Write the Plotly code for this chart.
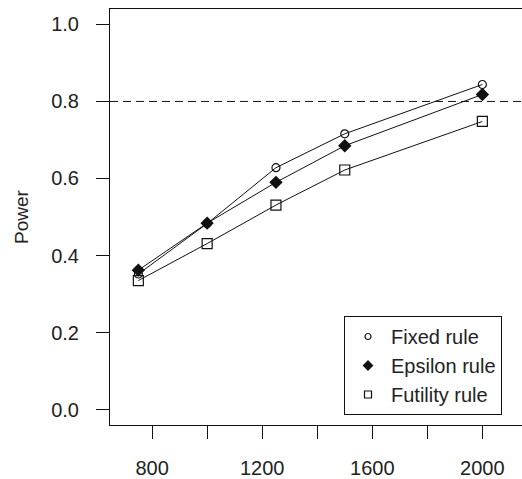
import plotly.graph_objects as go

# Sample sizes and simulated power for each stopping rule
sample_size = [750, 1000, 1250, 1500, 2000]
power_fixed = [0.352, 0.483, 0.628, 0.716, 0.844]
power_epsilon = [0.362, 0.484, 0.590, 0.685, 0.818]
power_futility = [0.335, 0.431, 0.531, 0.622, 0.748]
target_power = 0.8

x_ticks = [800, 1000, 1200, 1400, 1600, 1800, 2000]
x_tick_text = ["800", "", "1200", "", "1600", "", "2000"]
y_ticks = [0.0, 0.2, 0.4, 0.6, 0.8, 1.0]

font_family = "Liberation Sans, Arial, sans-serif"
ink = "#111111"
text_ink = "#222222"

series = [
    ("Fixed rule", power_fixed, "circle-open", 8, 6),
    ("Epsilon rule", power_epsilon, "diamond", 9, 7),
    ("Futility rule", power_futility, "square-open", 10, 7),
]

fig = go.Figure()

for name, values, symbol, size, _ in series:
    fig.add_trace(go.Scatter(
        x=sample_size, y=values, mode="lines+markers", name=name,
        showlegend=False,
        line=dict(color=ink, width=1),
        marker=dict(symbol=symbol, size=size, color=ink,
                    line=dict(color=ink, width=1.2)),
    ))

# legend entries show the symbol only, slightly smaller than on the curves
for name, _, symbol, _, lsize in series:
    fig.add_trace(go.Scatter(
        x=[None], y=[None], mode="markers", name=name,
        marker=dict(symbol=symbol, size=lsize, color=ink,
                    line=dict(color=ink, width=1.2)),
    ))

# reference line at the target power
fig.add_shape(type="line", xref="paper", x0=0, x1=1, yref="y",
              y0=target_power, y1=target_power,
              line=dict(color=ink, width=1, dash="8px,5px"))

fig.add_annotation(text="Power", xref="paper", yref="paper",
                   x=(21 - 110) / 412, y=0.5, textangle=-90,
                   showarrow=False, xanchor="center", yanchor="middle",
                   font=dict(family=font_family, size=19, color=text_ink))

axis_common = dict(
    showgrid=False, zeroline=False, showline=True, linecolor=ink,
    linewidth=1, ticks="outside", ticklen=13, tickwidth=1, tickcolor=ink,
    tickfont=dict(family=font_family, size=20, color=text_ink),
)

fig.update_xaxes(range=[647, 2144], tickmode="array", tickvals=x_ticks,
                 ticktext=x_tick_text, mirror=True,
                 ticklabelstandoff=12, **axis_common)
fig.update_yaxes(range=[-0.04, 1.04], tickmode="array", tickvals=y_ticks,
                 tickformat=".1f", mirror=False, ticklabelstandoff=13,
                 **axis_common)

fig.update_layout(
    width=522, height=479,
    margin=dict(l=110, r=0, t=9, b=54),
    paper_bgcolor="white", plot_bgcolor="white",
    font=dict(family=font_family, color=text_ink),
    legend=dict(x=(344 - 110) / 412, y=(425 - 316) / 416,
                xanchor="left", yanchor="top", itemwidth=36,
                bordercolor=ink, borderwidth=1, bgcolor="white",
                font=dict(family=font_family, size=20, color=text_ink)),
)

fig.write_html("out.html")
